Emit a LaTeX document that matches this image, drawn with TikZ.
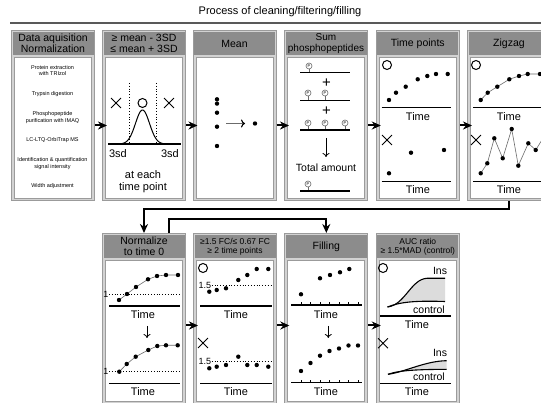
\documentclass[tikz,border=0pt]{standalone}
\usepackage{fontspec}
\setmainfont{Liberation Sans}
\usetikzlibrary{arrows.meta, positioning, shapes.misc, calc}
\definecolor{cframe}{HTML}{9B9B9B}
\definecolor{clight}{HTML}{D2D2D2}
\definecolor{chead}{HTML}{8C8C8C}
\definecolor{cgrey}{HTML}{6B6B6B}
\definecolor{carea}{HTML}{DCDCDC}
\tikzset{
  every picture/.style={line width=1.2pt},
  frame/.style={draw=cframe, fill=clight, line width=1pt, anchor=north west, minimum width=83pt, minimum height=#1, inner sep=0pt},
  head/.style={fill=chead, anchor=north, minimum width=81pt, minimum height=23pt, align=center, inner sep=0pt, font=\fontsize{10.5}{11}\selectfont},
  body/.style={draw=cframe, fill=white, line width=0.8pt, anchor=south, minimum width=77pt, minimum height=#1, inner sep=0pt},
  arrow/.style={-{Stealth[length=9pt, width=8pt]}, line width=2pt},
  down/.style={-{To[length=4pt, width=7pt]}, line width=0.8pt},
  axis/.style={line width=1.2pt},
  lbl/.style={font=\fontsize{11}{12}\selectfont, inner sep=0pt, align=center},
  ok/.style={circle, draw, line width=1pt, minimum size=9pt, inner sep=0pt},
  ng/.style={cross out, draw, line width=0.9pt, minimum size=9pt, inner sep=0pt},
  pep/.style={circle, draw=cgrey, line width=0.6pt, minimum size=6pt, inner sep=0pt, font=\fontsize{4}{4}\selectfont},
  stepnote/.style={font=\fontsize{5.5}{6.5}\selectfont, align=center, inner sep=0pt},
}

\begin{document}
\begin{tikzpicture}[x=1pt, y=-1pt,
  thin/.style={cgrey, line width=0.6pt},
  tick/.style={line width=0.6pt},
  lim/.style={dotted, line width=0.8pt}]
  \useasboundingbox (0,0) rectangle (541,403);
  \clip (0,0) rectangle (541,403);
  % title
  \node[lbl] (title) at (280,12) {Process of cleaning/filtering/filling};
  \draw[line width=1.2pt, black!65] (10,23) -- (541,23);
  % panels
  \foreach \n/\x/\y in {1/11/30, 2/102/30, 3/192.5/30, 4/284/30, 5/375.8/30, 6/467/30,
                        7/102/233, 8/193/233, 9/284.3/233, 10/375.8/233} {
    \node[frame=170pt] (f\n) at (\x,\y) {};
    \node[body=141pt] (b\n) at ([yshift=2.5pt]f\n.south) {};
  }
  \node[head] (h1) at ([yshift=-1.5pt]f1.north) {Data aquisition\\Normalization};
  \node[head] (h2) at ([yshift=-1.5pt]f2.north) {≥ mean - 3SD\\≤ mean + 3SD};
  \node[head] (h3) at ([yshift=-1.5pt]f3.north) {Mean};
  \node[head, font=\fontsize{10}{10.5}\selectfont] (h4) at ([yshift=-1.5pt]f4.north) {Sum\\phosphopeptides};
  \node[head] (h5) at ([yshift=-1.5pt]f5.north) {Time points};
  \node[head] (h6) at ([yshift=-1.5pt]f6.north) {Zigzag};
  \node[head] (h7) at ([yshift=-1.5pt]f7.north) {Normalize\\to time 0};
  \node[head, font=\fontsize{8.5}{9.5}\selectfont] (h8) at ([yshift=-1.5pt]f8.north) {≥1.5 FC/≤ 0.67 FC\\≥ 2 time points};
  \node[head] (h9) at ([yshift=-1.5pt]f9.north) {Filling};
  \node[head, font=\fontsize{8.5}{9.5}\selectfont] (h10) at ([yshift=-1.5pt]f10.north) {AUC ratio\\≥ 1.5*MAD (control)};
  % arrows between panels
  \foreach \a/\b in {1/2, 2/3, 3/4, 4/5, 5/6}
    \draw[arrow] ([yshift=-10pt]f\a.east) -- ([yshift=-10pt, xshift=5pt]f\b.west);
  \foreach \a/\b in {7/8, 8/9, 9/10}
    \draw[arrow] ([yshift=-7pt]f\a.east) -- ([yshift=-7pt, xshift=5pt]f\b.west);
  \draw[arrow] (f6.south) -- ++(0,8) -| (f7.north);
  \draw[arrow] ([xshift=25pt]f7.north) -- ++(0,-14) -| (f9.north);

  % Data aquisition
  \node[stepnote] (s1) at (52.5,70.5) {Protein extraction\\with TRIzol};
  \node[stepnote] (s2) at (52.5,94) {Trypsin digestion};
  \node[stepnote] (s3) at (52.5,117.5) {Phosphopeptide\\purification with IMAQ};
  \node[stepnote] (s4) at (52.5,140) {LC-LTQ-OrbiTrap MS};
  \node[stepnote] (s5) at (52.5,163.5) {Identification \& quantification\\signal intensity};
  \node[stepnote] (s6) at (52.5,186) {Width adjustment};

  % mean +- 3SD
  \node[ng] (x21) at (116,103) {};
  \node[ok] (o21) at (142.5,103) {};
  \node[ng] (x22) at (169,103) {};
  \draw[lim] (129,83) -- (129,144);
  \draw[lim] (156,83) -- (156,144);
  \draw[line width=1pt] plot[domain=-24:24, samples=70, smooth] ({142.5+\x}, {144-34*exp(-0.5*\x*\x/49)});
  \draw[axis] (108,144) -- (181,144);
  \node[lbl] (sd1) at (118,154) {3sd};
  \node[lbl] (sd2) at (170,154) {3sd};
  \node[lbl] (each) at (143,181.5) {at each\\time point};

  % Mean
  \foreach \y in {99.3, 103.6, 112.7, 126.7, 146} \fill (217,\y) circle (2.2pt);
  \draw[cgrey, line width=1.1pt, -{To[length=4pt, width=8pt, black]}] (226,123.5) -- (245,123.5);
  \fill (255,123.5) circle (2.2pt);

  % Sum phosphopeptides
  \foreach \x/\y [count=\i] in {309/66, 308/93, 325/93, 308/123, 325/123, 345/123, 308/184} {
    \node[pep] (pp\i) at (\x,\y) {P};
    \draw[thin] (pp\i.south) -- ++(0,3.5);
  }
  \foreach \y in {72.5, 100.5, 130, 191} \draw[axis] (300,\y) -- (350,\y);
  \node[lbl, font=\fontsize{15}{15}\selectfont] (plus1) at (326.5,83) {+};
  \node[lbl, font=\fontsize{15}{15}\selectfont] (plus2) at (326.5,111) {+};
  \draw[down] (326,138) -- (326,157);
  \node[lbl, font=\fontsize{10.5}{12}\selectfont] (total) at (326,168) {Total amount};

  % Time points
  \node[ok] (o5) at (387,65) {};
  \foreach \x/\y in {389/100, 396/92.7, 405.7/86.7, 417.7/79.3, 427.3/76, 436/74, 447.7/74} \fill (\x,\y) circle (2.2pt);
  \draw[axis] (381.7,107.7) -- (450.7,107.7);
  \node[lbl] (t51) at (418,117) {Time};
  \node[ng] (x5) at (387,140) {};
  \foreach \x/\y in {389/173.3, 411/152.7, 444/150} \fill (\x,\y) circle (2.2pt);
  \draw[axis] (381.7,181.7) -- (450.7,181.7);
  \node[lbl] (t52) at (418,190) {Time};

  % Zigzag
  \node[ok] (o6) at (476,65) {};
  \draw[thin] plot coordinates {(480.7,100) (487.7,92.7) (497.3,86.7) (509.3,79.3) (519,76) (527.7,74) (540,74) (550,74)};
  \foreach \x/\y in {480.7/100, 487.7/92.7, 497.3/86.7, 509.3/79.3, 519/76, 527.7/74, 540/74} \fill (\x,\y) circle (2.2pt);
  \draw[axis] (473,107.7) -- (545,107.7);
  \node[lbl] (t61) at (509,117) {Time};
  \node[ng] (x6) at (476,140) {};
  \draw[thin] plot coordinates {(480.7,173.3) (487.3,163.3) (494.3,138.3) (502.7,158.3) (511.7,129) (518.3,165.7) (528.3,143.3) (535.7,150) (545,135)};
  \foreach \x/\y in {480.7/173.3, 487.3/163.3, 494.3/138.3, 502.7/158.3, 511.7/129, 518.3/165.7, 528.3/143.3, 535.7/150} \fill (\x,\y) circle (2.2pt);
  \draw[axis] (473,181.7) -- (545,181.7);
  \node[lbl] (t62) at (509,190) {Time};

  % Normalize to time 0
  \draw[lim] (109,294.3) -- (180,294.3);
  \node[lbl, font=\fontsize{9}{10}\selectfont, anchor=east] (one1) at (109,294.3) {1};
  \draw[thin] plot coordinates {(119,300) (127,294) (136,287) (148,279.3) (157,276) (166,275) (178,275)};
  \foreach \x/\y in {119/300, 127/294, 136/287, 148/279.3, 157/276, 166/275, 178/275} \fill (\x,\y) circle (2.2pt);
  \draw[axis] (109,306) -- (180,306);
  \node[lbl] (t71) at (143,315) {Time};
  \draw[down] (147,326) -- (147,338);
  \draw[lim] (109,371.7) -- (180,371.7);
  \node[lbl, font=\fontsize{9}{10}\selectfont, anchor=east] (one2) at (109,371.7) {1};
  \draw[thin] plot coordinates {(119.3,371.7) (126.7,364) (135.7,356.7) (148.3,350) (157.3,346) (166,345.3) (177.7,345.3)};
  \foreach \x/\y in {119.3/371.7, 126.7/364, 135.7/356.7, 148.3/350, 157.3/346, 166/345.3, 177.7/345.3} \fill (\x,\y) circle (2.2pt);
  \draw[axis] (109,383.3) -- (180,383.3);
  \node[lbl] (t72) at (143,392) {Time};

  % fold change
  \node[ok] (o8) at (203,268) {};
  \node[lbl, font=\fontsize{9}{10}\selectfont, anchor=west] (fc1) at (198,285.7) {1.5};
  \draw[lim] (fc1.east) -- (272,285.7);
  \foreach \x/\y in {209.3/291.7, 216.7/290, 226/288.3, 238.3/280, 247.3/275, 256.7/269, 268.3/269} \fill (\x,\y) circle (2.2pt);
  \draw[axis] (200,306) -- (271.5,306);
  \node[lbl] (t81) at (236,315) {Time};
  \node[ng] (x8) at (203,343) {};
  \node[lbl, font=\fontsize{9}{10}\selectfont, anchor=west] (fc2) at (198,361.7) {1.5};
  \draw[lim] (fc2.east) -- (272,361.7);
  \foreach \x/\y in {209.3/368.3, 216.7/366.7, 226/365, 238.3/356.7, 247.3/365, 256.7/365, 268.3/366.7} \fill (\x,\y) circle (2.2pt);
  \draw[axis] (200,383.3) -- (271.5,383.3);
  \node[lbl] (t82) at (236,392) {Time};

  % Filling
  \foreach \x/\y in {301/294.3, 320/278.3, 330/275, 340/272.3, 349.3/269} \fill (\x,\y) circle (2.2pt);
  \draw[axis] (291,305) -- (362,305);
  \foreach \x in {301,310.5,...,358} \draw[tick] (\x,305) -- ++(0,-3);
  \node[lbl] (t91) at (326,315) {Time};
  \draw[down] (328.3,326) -- (328.3,338);
  \foreach \x/\y in {301/371, 310.5/363, 320/355.7, 329.5/351, 339/348.5, 348.5/345.5, 358/345.5} \fill (\x,\y) circle (2.2pt);
  \draw[axis] (291,382.5) -- (362,382.5);
  \foreach \x in {301,310.5,...,358} \draw[tick] (\x,382.5) -- ++(0,-3);
  \node[lbl] (t92) at (326,392) {Time};

  % AUC ratio
  \node[ok] (o10) at (383,268) {};
  \fill[carea] (387.5,307) .. controls (405,305) and (411,279) .. (427,278.3) -- (445,278.3)
    -- (445,301.5) .. controls (415,300.5) and (400,302) .. (387.5,307);
  \draw[line width=1.1pt] (387.5,307) .. controls (405,305) and (411,279) .. (427,278.3) -- (445,278.3);
  \draw[line width=1.1pt] (387.5,307) .. controls (400,302) and (415,300.5) .. (445,301.5);
  \node[lbl, font=\fontsize{10.5}{12}\selectfont] (ins1) at (440,271) {Ins};
  \node[lbl, font=\fontsize{10.5}{12}\selectfont] (ctl1) at (429,309.3) {control};
  \draw[axis] (380,316) -- (451,316);
  \node[lbl] (t101) at (417,325) {Time};
  \node[ng] (x10) at (383,343.3) {};
  \fill[carea] (388,374.3) .. controls (405,372) and (425,361) .. (446.7,360.7)
    -- (446.7,369.3) .. controls (420,369.5) and (400,370) .. (388,374.3);
  \draw[line width=1.1pt] (388,374.3) .. controls (405,372) and (425,361) .. (446.7,360.7);
  \draw[line width=1.1pt] (388,374.3) .. controls (400,370) and (420,369.5) .. (446.7,369.3);
  \node[lbl, font=\fontsize{10.5}{12}\selectfont] (ins2) at (440,353.3) {Ins};
  \node[lbl, font=\fontsize{10.5}{12}\selectfont] (ctl2) at (429,376.7) {control};
  \draw[axis] (380,383.3) -- (451,383.3);
  \node[lbl] (t102) at (417,392) {Time};
\end{tikzpicture}
\end{document}
